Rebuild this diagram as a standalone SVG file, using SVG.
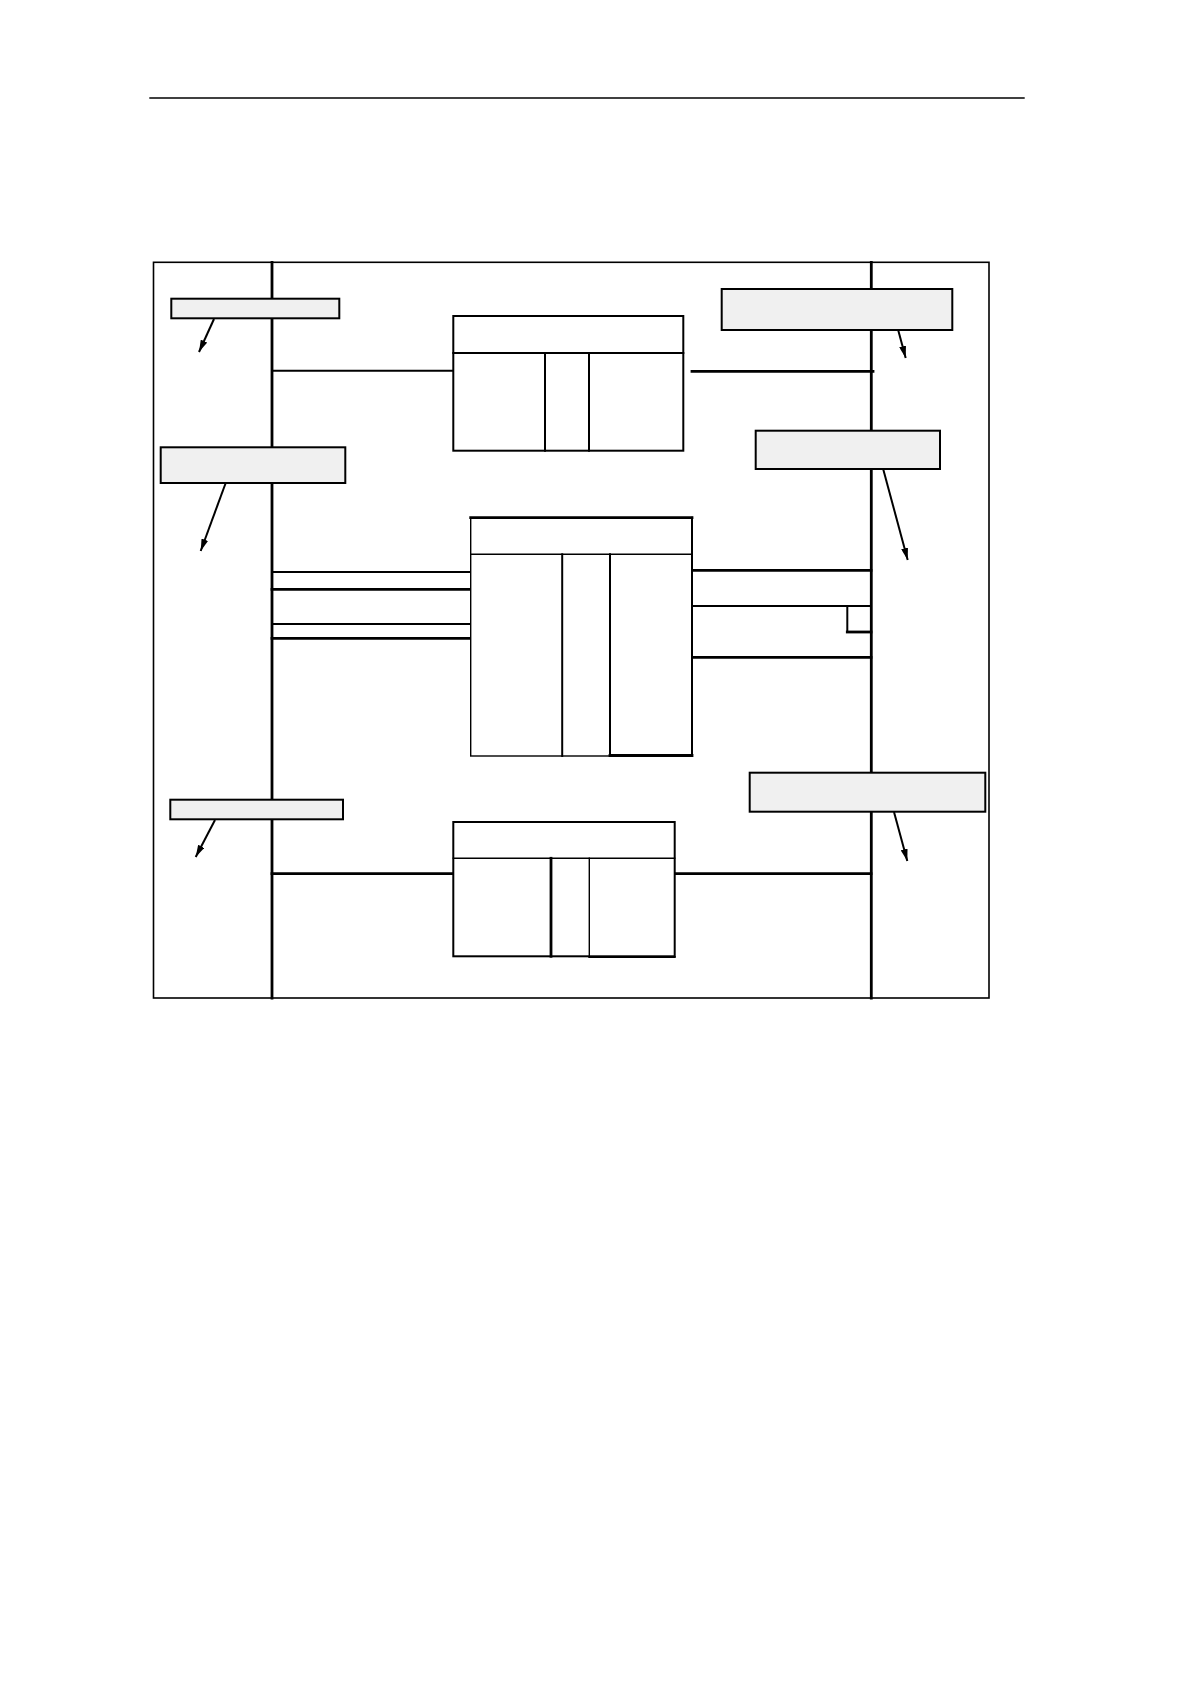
<svg xmlns="http://www.w3.org/2000/svg" width="1190" height="1684" viewBox="0 0 1190 1684">
<style>
.ln{stroke:#000;fill:none;stroke-linecap:square}
.t1{stroke-width:1.4}
.t2{stroke-width:2}
.t3{stroke-width:2.8}
.lbl{fill:#f0f0f0;stroke:#000;stroke-width:2}
.box{fill:#fff;stroke:#000;stroke-width:2}
.arr{stroke:#000;stroke-width:2;fill:none;marker-end:url(#ah)}
</style>
<defs>
<marker id="ah" viewBox="0 0 12 7" refX="12" refY="3.5" markerWidth="12" markerHeight="7" orient="auto" markerUnits="userSpaceOnUse">
<path d="M0,0 L12,3.5 L0,7 z" fill="#000"/>
</marker>
</defs>
<rect width="1190" height="1684" fill="#fff"/>
<line class="ln t1" x1="150" y1="98" x2="1024" y2="98"/>
<g id="frame">
<rect x="153.5" y="262.3" width="835.5" height="735.7" fill="none" stroke="#000" stroke-width="1.6"/>
<line class="ln t3" x1="272" y1="262.3" x2="272" y2="998"/>
<line class="ln t3" x1="871.3" y1="262.3" x2="871.3" y2="998"/>
</g>
<g id="connectors">
<line class="ln t2" x1="272" y1="370.7" x2="453.3" y2="370.7"/>
<line class="ln t3" x1="692" y1="371.3" x2="873" y2="371.3"/>
<line class="ln t2" x1="272" y1="572" x2="472" y2="572"/>
<line class="ln t3" x1="272" y1="589.3" x2="472" y2="589.3"/>
<line class="ln t2" x1="272" y1="624" x2="472" y2="624"/>
<line class="ln t3" x1="272" y1="638.3" x2="473" y2="638.3"/>
<line class="ln t3" x1="692" y1="570.3" x2="871" y2="570.3"/>
<line class="ln t2" x1="692" y1="606" x2="871" y2="606"/>
<polyline class="ln t2" points="847.3,606 847.3,632"/>
<line class="ln t3" x1="847.3" y1="632" x2="871" y2="632"/>
<line class="ln t3" x1="692" y1="657.3" x2="871" y2="657.3"/>
<line class="ln t3" x1="272" y1="873.7" x2="453.3" y2="873.7"/>
<line class="ln t3" x1="674.7" y1="873.7" x2="871" y2="873.7"/>
<line class="arr" x1="214" y1="319" x2="199" y2="352"/>
<line class="arr" x1="225.5" y1="483.5" x2="200.7" y2="551"/>
<line class="arr" x1="215" y1="820" x2="195.7" y2="857"/>
<line class="arr" x1="898.3" y1="330.5" x2="905.7" y2="358"/>
<line class="arr" x1="883.3" y1="469.5" x2="907.7" y2="560"/>
<line class="arr" x1="894" y1="812" x2="907.3" y2="861"/>
</g>
<g id="node-top">
<rect class="box" x="453.3" y="316" width="230" height="134.7"/>
<line class="ln t2" x1="453.3" y1="353" x2="683.3" y2="353"/>
<line class="ln t2" x1="545" y1="353" x2="545" y2="450.7"/>
<line class="ln t2" x1="589" y1="353" x2="589" y2="450.7"/>
</g>
<g id="node-middle">
<rect x="470.7" y="517.7" width="221.3" height="238.3" fill="#fff" stroke="#000" stroke-width="1.4"/>
<line class="ln t3" x1="470.7" y1="517.7" x2="692" y2="517.7"/>
<line class="ln t2" x1="692" y1="517.7" x2="692" y2="756"/>
<line class="ln t1" x1="470.7" y1="554.3" x2="692" y2="554.3"/>
<line class="ln t2" x1="562.2" y1="554.3" x2="562.2" y2="756"/>
<line class="ln t2" x1="610" y1="554.3" x2="610" y2="756"/>
<line class="ln t3" x1="610" y1="755.5" x2="692" y2="755.5"/>
</g>
<g id="node-bottom">
<rect class="box" x="453.3" y="822" width="221.4" height="134.3"/>
<line class="ln t1" x1="453.3" y1="858.3" x2="674.7" y2="858.3"/>
<line class="ln t3" x1="551" y1="858.3" x2="551" y2="956.3"/>
<line class="ln t1" x1="589.3" y1="858.3" x2="589.3" y2="956.3"/>
<line class="ln t2" x1="589.3" y1="957" x2="674.7" y2="957"/>
</g>
<g id="label-l1"><rect class="lbl" x="171.3" y="298.7" width="168" height="19.6"/></g>
<g id="label-l2"><rect class="lbl" x="160.7" y="447.3" width="184.6" height="35.7"/></g>
<g id="label-l3"><rect class="lbl" x="170.3" y="799.7" width="172.7" height="19.6"/></g>
<g id="label-r1"><rect class="lbl" x="721.7" y="289" width="230.6" height="41"/></g>
<g id="label-r2"><rect class="lbl" x="755.7" y="430.7" width="184.3" height="38.3"/></g>
<g id="label-r3"><rect class="lbl" x="749.7" y="772.7" width="235.6" height="39"/></g>
</svg>
